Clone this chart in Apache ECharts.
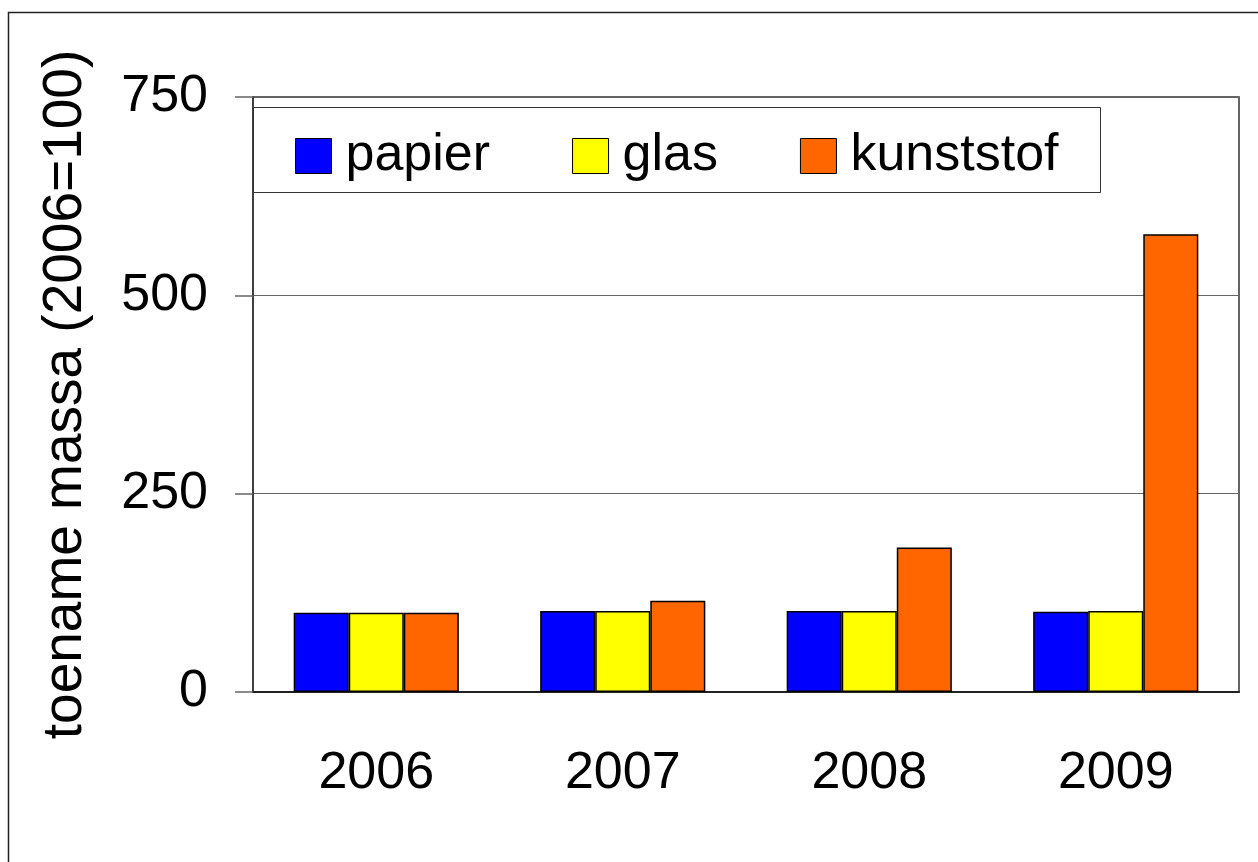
<!DOCTYPE html>
<html>
<head>
<meta charset="utf-8">
<script src="https://cdn.jsdelivr.net/npm/echarts@6/dist/echarts.min.js"></script>
<style>
  html, body { margin: 0; padding: 0; background: #fff; }
  #main { width: 1258px; height: 862px; }
</style>
</head>
<body>
<div id="main"></div>
<script>
// jaren en toename massa per materiaal (2006=100)
var years = ['2006', '2007', '2008', '2009'];
var papier = [100, 102, 102, 101];
var glas = [100, 102, 102, 102];
var kunststof = [100, 115, 182, 577];
var yTicks = [0, 250, 500, 750];

var myChart = echarts.init(document.getElementById('main'));
var font = '"Liberation Sans", Arial, sans-serif';

function barSeries(name, color, data) {
    return {
        name: name,
        type: 'bar',
        data: data,
        barGap: '0%',
        barCategoryGap: '33%',
        itemStyle: { color: color, borderColor: '#000', borderWidth: 1.5 }
    };
}

myChart.setOption({
    animation: false,
    backgroundColor: '#fff',
    textStyle: { fontFamily: font },
    graphic: [
        { type: 'rect', shape: { x: 8.5, y: 12.5, width: 1300, height: 900 },
          style: { fill: 'none', stroke: '#222', lineWidth: 1.5 }, z: 0 },
        { type: 'rect', shape: { x: 253.5, y: 107.5, width: 847, height: 85 },
          style: { fill: '#fff', stroke: '#333', lineWidth: 1 }, z: 5 }
    ],
    grid: {
        left: 253, right: 19, top: 97, bottom: 170,
        show: true, borderColor: '#333', borderWidth: 1.5,
        outerBoundsMode: 'none'
    },
    legend: {
        data: ['papier', 'glas', 'kunststof'],
        left: 290, top: 125,
        itemWidth: 36, itemHeight: 35, itemGap: 82,
        icon: 'rect',
        itemStyle: { borderColor: '#000', borderWidth: 1 },
        textStyle: { fontSize: 52, color: '#000', fontFamily: font, padding: [0, 0, 0, 9] },
        z: 10
    },
    xAxis: {
        type: 'category',
        data: years,
        axisTick: { show: false },
        axisLine: { lineStyle: { color: '#222', width: 2 } },
        axisLabel: { fontSize: 52, color: '#000', margin: 56, fontFamily: font }
    },
    yAxis: {
        type: 'value',
        min: yTicks[0], max: yTicks[yTicks.length - 1], interval: 250,
        name: 'toename massa (2006=100)',
        nameLocation: 'middle',
        nameGap: 160,
        nameTextStyle: { fontSize: 55, color: '#000', fontFamily: font },
        axisLine: { show: true, lineStyle: { color: '#333', width: 1.5 } },
        axisTick: { show: true, inside: false, length: 18, lineStyle: { color: '#666', width: 1.5 } },
        axisLabel: { fontSize: 52, color: '#000', margin: 45, fontFamily: font },
        splitLine: { show: true, lineStyle: { color: '#666', width: 1 } }
    },
    series: [
        barSeries('papier', '#0000ff', papier),
        barSeries('glas', '#ffff00', glas),
        barSeries('kunststof', '#ff6600', kunststof)
    ]
});
window.onresize = myChart.resize;
</script>
</body>
</html>
